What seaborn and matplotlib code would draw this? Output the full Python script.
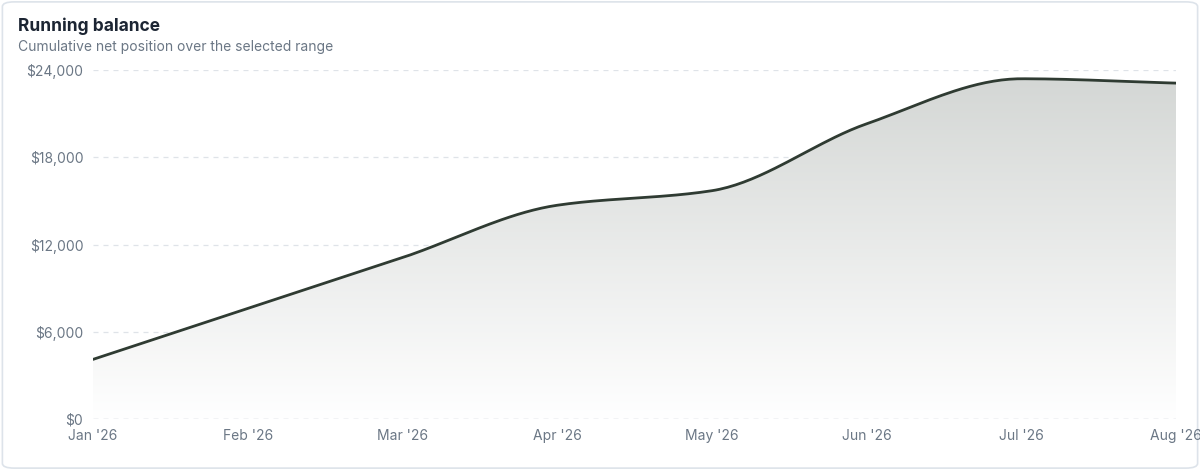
import numpy as np
import matplotlib
matplotlib.use("Agg")
import matplotlib.pyplot as plt
import seaborn as sns
from matplotlib.patches import FancyBboxPatch
from matplotlib.ticker import FuncFormatter

months = ["Jan '26", "Feb '26", "Mar '26", "Apr '26", "May '26", "Jun '26", "Jul '26", "Aug '26"]
balance = [4100, 7600, 11100, 14700, 15700, 20300, 23400, 23100]
y_ticks = [0, 6000, 12000, 18000, 24000]

sns.set_theme(style="white")
plt.rcParams['font.family'] = ['Inter', 'DejaVu Sans']

fig = plt.figure(figsize=(12, 4.7), dpi=100)
card = FancyBboxPatch((0.002, 0.004), 0.996, 0.992, boxstyle="round,pad=0,rounding_size=0.01",
                      transform=fig.transFigure, fc="none", ec="#dde3ea", lw=1.2, zorder=-10)
fig.patches.append(card)
ax = fig.add_axes([0.0775, 0.1085, 0.9025, 0.7425])
ax.set_facecolor("none")

x = np.arange(len(months), dtype=float)
y = np.array(balance, dtype=float)

# monotone cubic (PCHIP) rendering of the curve through the data points
h = np.diff(x); d = np.diff(y) / h
m = np.zeros_like(y)
for i in range(1, len(y) - 1):
    if d[i-1] * d[i] > 0:
        w1 = 2*h[i] + h[i-1]; w2 = h[i] + 2*h[i-1]
        m[i] = (w1 + w2) / (w1 / d[i-1] + w2 / d[i])
m[0] = d[0]; m[-1] = d[-1]
xs, ys = [], []
for i in range(len(x) - 1):
    t = np.linspace(0, 1, 40)
    h00 = 2*t**3 - 3*t**2 + 1; h10 = t**3 - 2*t**2 + t
    h01 = -2*t**3 + 3*t**2; h11 = t**3 - t**2
    xs.append(x[i] + t*h[i])
    ys.append(h00*y[i] + h10*h[i]*m[i] + h01*y[i+1] + h11*h[i]*m[i+1])
xs = np.concatenate(xs); ys = np.concatenate(ys)

ax.set_xlim(0, len(months) - 1)
ax.set_ylim(0, 24000)

# gradient fill
grad = np.linspace(0, 1, 256).reshape(-1, 1)
cmap = matplotlib.colors.LinearSegmentedColormap.from_list("g", ["#ffffff", "#d3d6d4"])
im = ax.imshow(grad, cmap=cmap, aspect="auto", extent=[0, len(months)-1, 0, 24000], origin="lower", zorder=1)
clip = matplotlib.patches.Polygon(np.column_stack([np.r_[xs, xs[-1], xs[0]], np.r_[ys, 0, 0]]),
                                  transform=ax.transData, fc="none", ec="none")
ax.add_patch(clip)
im.set_clip_path(clip)

sns.lineplot(x=xs, y=ys, ax=ax, color="#2f3b32", lw=2, zorder=3)

for v in y_ticks:
    ax.axhline(v, color="#dfe3e8" if v else "#9aa6b2", lw=0.9, ls=(0, (4, 4)), zorder=0 if v else 2)

ax.set_xlim(0, len(months) - 1)
ax.set_ylim(0, 24000)
ax.set_xticks(x)
ax.set_xticklabels(months)
ax.set_yticks(y_ticks)
ax.yaxis.set_major_formatter(FuncFormatter(lambda v, p: f"${v:,.0f}"))
ax.tick_params(axis="both", length=0, labelsize=10, labelcolor="#6b7785", pad=7)
for s in ax.spines.values():
    s.set_visible(False)

fig.text(0.015, 0.945, "Running balance", fontsize=12.5, fontweight="bold", color="#1c2533", va="center")
fig.text(0.015, 0.9, "Cumulative net position over the selected range", fontsize=10, color="#6b7785", va="center")

fig.savefig("out.png", dpi=100)
